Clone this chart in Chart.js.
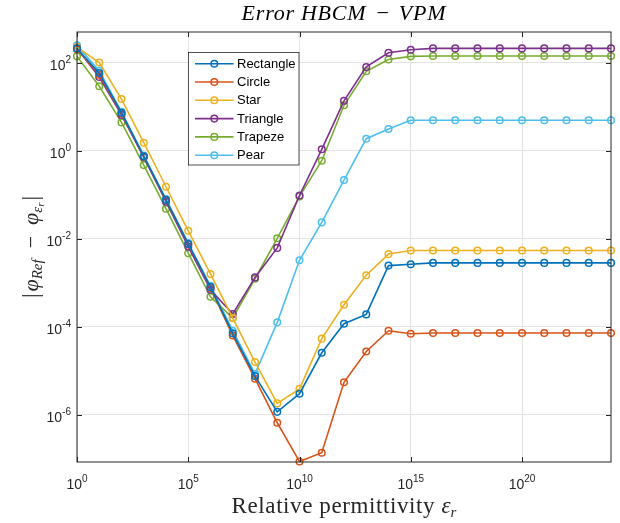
<!DOCTYPE html>
<html><head><meta charset="utf-8">
<script src="https://cdn.jsdelivr.net/npm/chart.js@4"></script>
<style>html,body{margin:0;padding:0;background:#fff}</style>
</head><body>
<canvas id="c" width="620" height="523"></canvas>
<script>
// ---- data ----
const permittivity = [1e0,1e1,1e2,1e3,1e4,1e5,1e6,1e7,1e8,1e9,1e10,1e11,1e12,1e13,1e14,1e15,1e16,1e17,1e18,1e19,1e20,1e21,1e22,1e23,1e24];
const rectangle = [209,57.5,7.24,0.741,0.0759,7.59e-3,7.94e-4,7.08e-5,7.59e-6,1.17e-6,3.02e-6,2.57e-5,1.17e-4,1.91e-4,2.45e-3,2.63e-3,2.82e-3,2.82e-3,2.82e-3,2.82e-3,2.82e-3,2.82e-3,2.82e-3,2.82e-3,2.82e-3];
const circle = [200,52.5,6.92,0.724,0.0741,7.41e-3,7.59e-4,6.31e-5,6.61e-6,6.61e-7,8.71e-8,1.38e-7,5.5e-6,2.75e-5,8.13e-5,6.92e-5,7.24e-5,7.24e-5,7.24e-5,7.24e-5,7.24e-5,7.24e-5,7.24e-5,7.24e-5,7.24e-5];
const star = [224,100,14.8,1.51,0.151,0.0151,1.58e-3,1.58e-4,1.58e-5,1.82e-6,3.89e-6,5.37e-5,3.16e-4,1.48e-3,4.47e-3,5.37e-3,5.37e-3,5.37e-3,5.37e-3,5.37e-3,5.37e-3,5.37e-3,5.37e-3,5.37e-3,5.37e-3];
const triangle = [209,46.8,6.46,0.708,0.0692,6.61e-3,6.92e-4,1.95e-4,1.32e-3,6.17e-3,0.0955,1.07,13.5,79.4,166,195,209,209,209,209,209,209,209,209,209];
const trapeze = [138,28.8,4.37,0.468,0.0479,4.68e-3,4.79e-4,1.58e-4,1.23e-3,0.0102,0.0912,0.589,10.7,63.1,117,138,141,141,141,141,141,141,141,141,141];
const pear = [245,64.6,7.59,0.776,0.0794,7.94e-3,8.51e-4,8.13e-5,8.51e-6,1.26e-4,3.24e-3,2.34e-2,0.214,1.86,3.09,4.9,4.9,4.9,4.9,4.9,4.9,4.9,4.9,4.9,4.9];
const seriesNames = ['Rectangle','Circle','Star','Triangle','Trapeze','Pear'];
const seriesColors = ['#0072BD','#D95319','#EDB120','#7E2F8E','#77AC30','#4DBEEE'];
const xTickValues = [1e0,1e5,1e10,1e15,1e20];
const xTickExponents = ['0','5','10','15','20'];
const yTickValues = [1e-6,1e-4,1e-2,1e0,1e2];
const yTickExponents = ['-6','-4','-2','0','2'];
const xMin = 1e0, xMax = 1e24, yMin = 8.5e-8, yMax = 493;

const allSeries = [rectangle, circle, star, triangle, trapeze, pear];
const datasets = allSeries.map((s, i) => ({
  label: seriesNames[i],
  data: permittivity.map((x, j) => ({x: x, y: s[j]})),
  borderColor: seriesColors[i],
  backgroundColor: seriesColors[i],
  pointBackgroundColor: 'rgba(0,0,0,0)',
  pointBorderColor: seriesColors[i],
  pointBorderWidth: 1.5,
  pointRadius: 3.3,
  borderWidth: 1.6,
  tension: 0,
  clip: 12
}));

function drawRuns(ctx, runs, cx, baseY) {
  let total = 0;
  runs.forEach(r => { ctx.font = r.font; ctx.letterSpacing = r.ls || '0px'; r.w = ctx.measureText(r.t).width; total += r.w + (r.gap || 0); });
  let x = cx - total / 2;
  ctx.textAlign = 'left'; ctx.textBaseline = 'alphabetic';
  runs.forEach(r => { ctx.font = r.font; ctx.letterSpacing = r.ls || '0px'; ctx.fillText(r.t, x, baseY + (r.dy || 0)); x += r.w + (r.gap || 0); });
  ctx.letterSpacing = '0px';
}

const decor = {
  id: 'decor',
  afterDraw(chart) {
    const {ctx, chartArea: a, scales: {x, y}} = chart;
    ctx.save();
    const ax = '#262626';
    ctx.strokeStyle = ax; ctx.lineWidth = 1;
    ctx.strokeRect(a.left, a.top, a.right - a.left, a.bottom - a.top);
    ctx.beginPath();
    xTickValues.forEach(v => {
      const px = Math.round(x.getPixelForValue(v)) + 0.5;
      ctx.moveTo(px, a.bottom); ctx.lineTo(px, a.bottom - 5);
      ctx.moveTo(px, a.top); ctx.lineTo(px, a.top + 5);
    });
    yTickValues.forEach(v => {
      const py = Math.round(y.getPixelForValue(v)) + 0.5;
      ctx.moveTo(a.left, py); ctx.lineTo(a.left + 5, py);
      ctx.moveTo(a.right, py); ctx.lineTo(a.right - 5, py);
    });
    ctx.stroke();
    ctx.fillStyle = ax;
    const bigF = '14px "Liberation Sans", Arial, sans-serif';
    const smallF = '10px "Liberation Sans", Arial, sans-serif';
    xTickValues.forEach((v, i) => {
      const px = x.getPixelForValue(v);
      drawRuns(ctx, [{t: '10', font: bigF}, {t: xTickExponents[i], font: smallF, dy: -7}], px, 489);
    });
    yTickValues.forEach((v, i) => {
      const py = y.getPixelForValue(v);
      ctx.font = bigF; const w1 = ctx.measureText('10').width;
      ctx.font = smallF; const w2 = ctx.measureText(yTickExponents[i]).width;
      const right = a.left - 6;
      ctx.textAlign = 'left'; ctx.textBaseline = 'alphabetic';
      ctx.font = bigF; ctx.fillText('10', right - w2 - w1, py + 7);
      ctx.font = smallF; ctx.fillText(yTickExponents[i], right - w2, py);
    });
    // title
    ctx.fillStyle = '#000';
    const ser = '"Liberation Serif", "Times New Roman", serif';
    drawRuns(ctx, [
      {t: 'Error', font: 'italic 22px ' + ser, ls: '0.8px', gap: 6},
      {t: 'HBCM', font: 'italic 22px ' + ser, ls: '0.8px', gap: 10},
      {t: '\u2212', font: '22px ' + ser, gap: 10},
      {t: 'VPM', font: 'italic 22px ' + ser, ls: '0.8px'}
    ], (a.left + a.right) / 2, 20);
    // x label
    ctx.fillStyle = '#262626';
    drawRuns(ctx, [
      {t: 'Relative permittivity ', font: '23px ' + ser, ls: '0.6px'},
      {t: '\u03B5', font: 'italic 23px ' + ser},
      {t: 'r', font: 'italic 15px ' + ser, dy: 4}
    ], (a.left + a.right) / 2, 513);
    // y label
    ctx.save();
    ctx.translate(38, (a.top + a.bottom) / 2);
    ctx.rotate(-Math.PI / 2);
    drawRuns(ctx, [
      {t: '|', font: '23px ' + ser, gap: 2},
      {t: '\u03C6', font: 'italic 22px ' + ser},
      {t: 'Ref', font: 'italic 15px ' + ser, dy: 4},
      {t: '  \u2212  ', font: '22px ' + ser},
      {t: '\u03C6', font: 'italic 22px ' + ser},
      {t: '\u03B5', font: 'italic 15px ' + ser, dy: 4},
      {t: 'r', font: 'italic 11px ' + ser, dy: 6, gap: 2},
      {t: '|', font: '23px ' + ser}
    ], 0, 0);
    ctx.restore();
    // legend
    const L = {x: 188.5, y: 52.5, w: 110.5, h: 112.5};
    ctx.fillStyle = '#fff';
    ctx.fillRect(L.x, L.y, L.w, L.h);
    ctx.strokeStyle = ax; ctx.lineWidth = 0.8;
    ctx.strokeRect(L.x, L.y, L.w, L.h);
    seriesNames.forEach((n, i) => {
      const ry = 63.7 + 18.3 * i;
      ctx.strokeStyle = seriesColors[i]; ctx.lineWidth = 1.6;
      ctx.beginPath(); ctx.moveTo(195, ry); ctx.lineTo(233.5, ry); ctx.stroke();
      ctx.lineWidth = 1.5;
      ctx.beginPath(); ctx.arc(214.3, ry, 3.3, 0, Math.PI * 2); ctx.stroke();
      ctx.fillStyle = '#000';
      ctx.font = '13px "Liberation Sans", Arial, sans-serif';
      ctx.textAlign = 'left'; ctx.textBaseline = 'middle';
      ctx.fillText(n, 237, ry + 0.5);
    });
    ctx.restore();
  }
};

new Chart(document.getElementById('c'), {
  type: 'line',
  data: {datasets: datasets},
  options: {
    responsive: false,
    animation: false,
    layout: {padding: {left: 77, right: 9, top: 32, bottom: 61}},
    plugins: {legend: {display: false}, tooltip: {enabled: false}, title: {display: false}},
    scales: {
      x: {
        type: 'logarithmic', min: xMin, max: xMax,
        afterBuildTicks: s => { s.ticks = xTickValues.map(v => ({value: v})); },
        ticks: {display: false},
        grid: {color: '#e3e3e3', lineWidth: 1, drawTicks: false},
        border: {display: false}
      },
      y: {
        type: 'logarithmic', min: yMin, max: yMax,
        afterBuildTicks: s => { s.ticks = yTickValues.map(v => ({value: v})); },
        ticks: {display: false},
        grid: {color: '#e3e3e3', lineWidth: 1, drawTicks: false},
        border: {display: false}
      }
    }
  },
  plugins: [decor]
});
</script>
</body></html>
